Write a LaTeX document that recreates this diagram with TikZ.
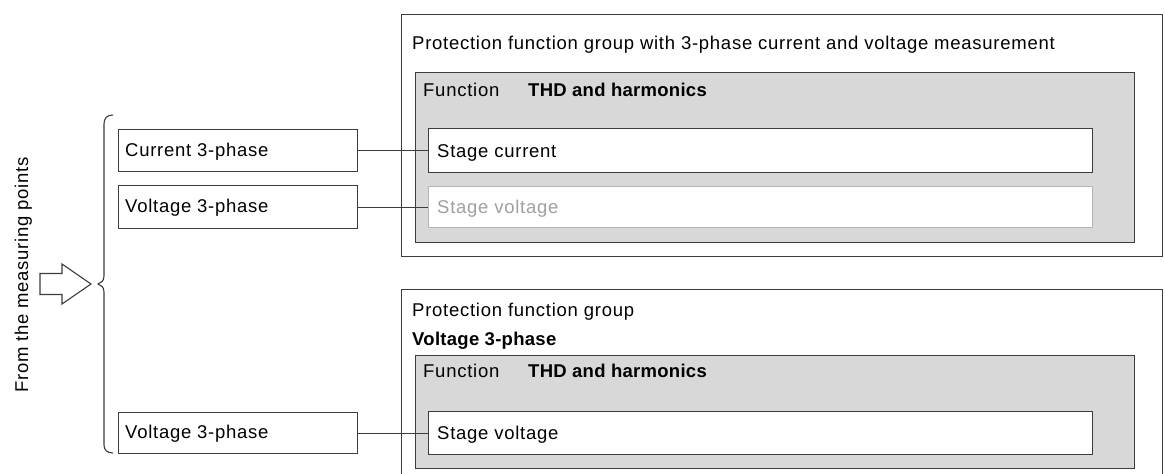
\documentclass[tikz,border=0pt]{standalone}
\usepackage{fontspec}
\setmainfont{Liberation Sans}[LetterSpace=4, BoldFeatures={LetterSpace=1.5}]
\definecolor{linec}{HTML}{3C3C3C}
\definecolor{grayfill}{HTML}{D8D8D8}
\definecolor{fadeline}{HTML}{B4B4B4}
\definecolor{fadetext}{HTML}{A0A0A0}
\begin{document}
\begin{tikzpicture}[x=1pt,y=-1pt,
  box/.style={draw=linec, line width=1.1pt, fill=white, inner sep=0pt, anchor=north west},
  graybox/.style={box, fill=grayfill},
  fadebox/.style={box, draw=fadeline},
  txt/.style={inner sep=0pt, anchor=base west, font=\fontsize{18.5}{22}\selectfont},
  btxt/.style={txt, font=\fontsize{18.5}{22}\selectfont\bfseries},
  conn/.style={draw=linec, line width=1.1pt}]
\useasboundingbox (0,0) rectangle (1165,474);
% outer groups
\node[box, minimum width=761pt, minimum height=242pt] (outerA) at (401,14) {};
\node[box, minimum width=761pt, minimum height=200pt] (outerB) at (401,289) {};
% function boxes
\node[graybox, minimum width=719pt, minimum height=170pt] (funA) at (415,72) {};
\node[graybox, minimum width=719pt, minimum height=113pt] (funB) at (415,355) {};
% stages
\node[box, minimum width=664pt, minimum height=44pt] (scA) at (428,128) {};
\node[fadebox, minimum width=664pt, minimum height=41pt] (svA) at (428,186) {};
\node[box, minimum width=664pt, minimum height=43pt] (svB) at (428,411) {};
% inputs
\node[box, minimum width=239pt, minimum height=42pt] (inC) at (118,129) {};
\node[box, minimum width=239pt, minimum height=43pt] (inV) at (118,185) {};
\node[box, minimum width=239pt, minimum height=41pt] (inVb) at (118,412) {};
% texts
\node[txt] (tA) at (412,49) {Protection function group with 3-phase current and voltage measurement};
\node[txt] (fA) at (423,96) {Function};
\node[btxt] (hA) at (528,96) {THD and harmonics};
\node[txt] (scAt) at (437,157) {Stage current};
\node[txt, text=fadetext] (svAt) at (437,213) {Stage voltage};
\node[txt] (tB) at (412,316) {Protection function group};
\node[btxt] (tB2) at (412,345) {Voltage 3-phase};
\node[txt] (fB) at (423,377) {Function};
\node[btxt] (hB) at (528,377) {THD and harmonics};
\node[txt] (svBt) at (437,439) {Stage voltage};
\node[txt] (inCt) at (125,156) {Current 3-phase};
\node[txt] (inVt) at (125,212) {Voltage 3-phase};
\node[txt] (inVbt) at (125,438) {Voltage 3-phase};
\node[txt, rotate=90, anchor=base] (from) at (28,275) {From the measuring points};
% connectors
\draw[conn] (inC.east) -- (scA.west);
\draw[conn] (inV.east) -- (svA.west);
\draw[conn] (inVb.east) -- (svB.west);
% brace
\draw[conn] (113,115) .. controls (107,115) and (104,118) .. (104,124)
  -- (104,276) .. controls (104,281) and (101,283) .. (98,284)
  .. controls (101,285) and (104,287) .. (104,292)
  -- (104,445) .. controls (104,450) and (107,453) .. (113,453);
% block arrow
\draw[conn, line join=miter] (40,273.5) -- (62,273.5) -- (62,264) -- (91,284) -- (62,304) -- (62,294.5) -- (40,294.5) -- cycle;
\end{tikzpicture}
\end{document}
